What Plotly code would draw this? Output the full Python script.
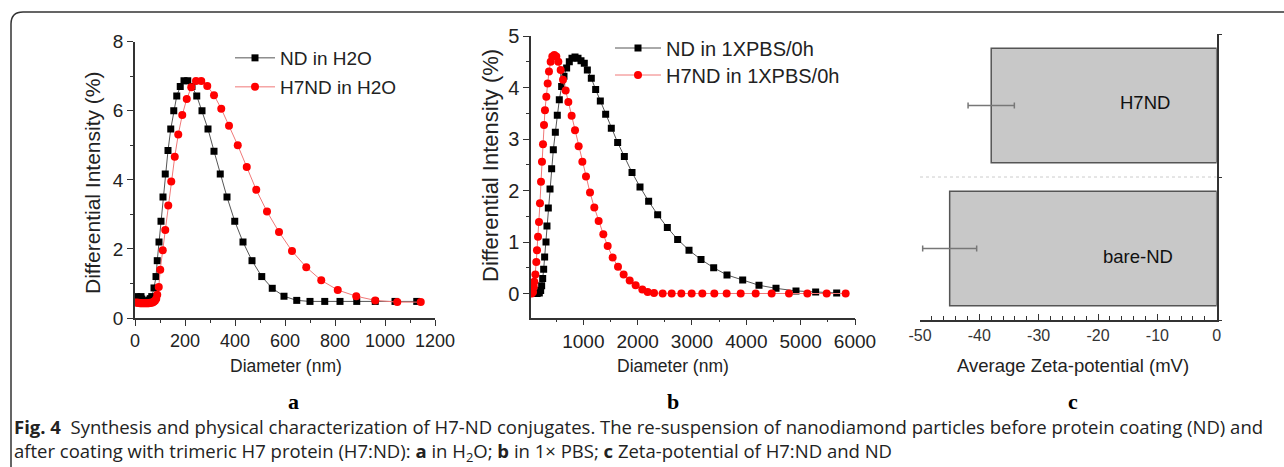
import plotly.graph_objects as go

W, H = 1284, 467

# ---------------- Panel a data (H2O) ----------------
a_nd_x = [7, 24, 27, 30, 33, 36, 39, 43, 47, 51, 56, 61, 67, 76, 84, 89, 96, 104, 112, 121, 132, 143, 155,
          167, 181, 196, 211, 228, 247, 268, 292, 316, 341, 368, 399, 432, 468, 507, 549, 596, 647, 700,
          759, 820, 887, 961, 1040, 1127]
a_nd_y = [0.62, 0.62, 0.55, 0.5, 0.48, 0.47, 0.46, 0.46, 0.47, 0.48, 0.52, 0.56, 0.62, 0.87, 1.2, 1.66, 2.2,
          2.8, 3.5, 4.17, 4.85, 5.47, 6.0, 6.43, 6.7, 6.87, 6.87, 6.7, 6.43, 6.0, 5.47, 4.83, 4.17, 3.5,
          2.8, 2.2, 1.66, 1.2, 0.86, 0.63, 0.51, 0.48, 0.48, 0.48, 0.48, 0.48, 0.48, 0.48]
a_h7_x = [5, 10, 15, 20, 25, 30, 35, 40, 45, 50, 55, 60, 65, 70, 75, 80, 85, 89, 95, 101, 111, 121, 133,
          145, 159, 173, 189, 207, 225, 244, 265, 289, 316, 345, 376, 411, 447, 485, 528, 576, 628, 685,
          745, 811, 885, 961, 1049, 1143]
a_h7_y = [0.45, 0.44, 0.44, 0.43, 0.43, 0.43, 0.43, 0.43, 0.43, 0.43, 0.43, 0.44, 0.44, 0.45, 0.47, 0.5,
          0.56, 0.67, 0.9, 1.4, 1.96, 2.55, 3.26, 3.95, 4.67, 5.31, 5.88, 6.34, 6.68, 6.86, 6.86, 6.72,
          6.45, 6.06, 5.57, 5.0, 4.37, 3.71, 3.08, 2.49, 1.94, 1.47, 1.09, 0.81, 0.63, 0.51, 0.46, 0.46]

# ---------------- Panel b data (1X PBS) ----------------
b_nd_x = [150, 190, 215, 233, 252, 270, 288, 313, 331, 356, 387, 417, 448, 485, 521, 558, 601, 644, 693,
          742, 791, 847, 902, 957, 1018, 1074, 1147, 1227, 1313, 1411, 1515, 1632, 1755, 1896, 2043,
          2202, 2368, 2546, 2736, 2945, 3166, 3399, 3644, 3933, 4233, 4546, 4914, 5276, 5663]
b_nd_y = [0.0, 0.01, 0.06, 0.15, 0.29, 0.47, 0.71, 1.0, 1.31, 1.66, 2.03, 2.42, 2.79, 3.13, 3.46, 3.76,
          4.02, 4.22, 4.38, 4.5, 4.57, 4.59, 4.57, 4.52, 4.47, 4.34, 4.18, 3.96, 3.74, 3.48, 3.21, 2.93,
          2.66, 2.35, 2.07, 1.79, 1.53, 1.28, 1.05, 0.84, 0.66, 0.5, 0.36, 0.26, 0.16, 0.1, 0.05, 0.03, 0.01]
b_h7_x = [50, 74, 88, 98, 117, 135, 147, 166, 184, 202, 221, 239, 258, 276, 294, 319, 344, 368, 399, 429,
          466, 503, 540, 583, 626, 675, 724, 785, 847, 914, 982, 1049, 1123, 1202, 1282, 1368, 1448, 1540,
          1638, 1742, 1853, 1963, 2086, 2184, 2301, 2460, 2626, 2804, 2994, 3190, 3411, 3638, 3896, 4172,
          4466, 4785, 5123, 5479, 5828]
b_h7_y = [0.0, 0.03, 0.13, 0.23, 0.37, 0.61, 0.84, 1.1, 1.39, 1.75, 2.17, 2.56, 2.9, 3.27, 3.56, 3.82,
          4.08, 4.31, 4.5, 4.6, 4.63, 4.6, 4.5, 4.34, 4.15, 3.94, 3.72, 3.45, 3.17, 2.86, 2.56, 2.27, 1.96,
          1.67, 1.41, 1.15, 0.92, 0.7, 0.52, 0.37, 0.25, 0.16, 0.08, 0.03, 0.01, 0.0, 0.0, 0.0, 0.0, 0.0,
          0.0, 0.0, 0.0, 0.0, 0.0, 0.0, 0.0, 0.0, 0.0]

# ---------------- Panel c data (zeta potential) ----------------
c_labels = ["bare-ND", "H7ND"]
c_pos = [0, 1]
c_values = [-45.0, -38.0]
c_errors = [4.55, 3.9]
c_tickvals = [-50, -40, -30, -20, -10, 0]
c_ticktext = ["-50", "-40", "-30", "-20", "-10", "0"]

FONT = "Liberation Sans, Arial, sans-serif"
AX = "#333333"


def px_x(p):
    return p / W


def px_y(p):
    return 1 - p / H


fig = go.Figure()

ND_LINE = dict(color="#555555", width=1)
ND_MARK = dict(symbol="square", size=7, color="#000000")
H7_LINE = dict(color="#f07878", width=1)
H7_MARK = dict(symbol="circle", size=8, color="#ff0000")

# panel a
fig.add_trace(go.Scatter(x=a_nd_x, y=a_nd_y, mode="lines+markers", name="ND in H2O",
                         line=ND_LINE, marker=ND_MARK, xaxis="x", yaxis="y", legend="legend"))
fig.add_trace(go.Scatter(x=a_h7_x, y=a_h7_y, mode="lines+markers", name="H7ND in H2O",
                         line=H7_LINE, marker=H7_MARK, xaxis="x", yaxis="y", legend="legend2"))
# panel b
fig.add_trace(go.Scatter(x=b_nd_x, y=b_nd_y, mode="lines+markers", name="ND in 1XPBS/0h",
                         line=ND_LINE, marker=ND_MARK, xaxis="x2", yaxis="y2", legend="legend3"))
fig.add_trace(go.Scatter(x=b_h7_x, y=b_h7_y, mode="lines+markers", name="H7ND in 1XPBS/0h",
                         line=H7_LINE, marker=H7_MARK, xaxis="x2", yaxis="y2", legend="legend4"))
# panel c
fig.add_trace(go.Bar(x=c_values, y=c_pos, orientation="h", width=0.8,
                     marker=dict(color="#c8c8c8", line=dict(color="#555555", width=1.5)),
                     error_x=dict(type="data", array=c_errors, color="#777777", thickness=1.5, width=3),
                     xaxis="x3", yaxis="y3", showlegend=False))

axis_common = dict(showline=True, linecolor=AX, linewidth=1.5, ticks="outside", tickcolor=AX,
                   tickwidth=1.2, showgrid=False, zeroline=False, automargin=False)


def leg(xp, yp, size, iw):
    return dict(x=px_x(xp), y=px_y(yp), xanchor="left", yanchor="middle", bgcolor="rgba(0,0,0,0)",
                font=dict(family=FONT, size=size, color="#222"), itemwidth=iw, tracegroupgap=0)


fig.update_layout(
    template="none",
    width=W, height=H, margin=dict(l=0, r=0, t=0, b=0, pad=0, autoexpand=False),
    paper_bgcolor="white", plot_bgcolor="rgba(0,0,0,0)",
    xaxis=dict(axis_common, domain=[px_x(135), px_x(435)], anchor="y", range=[0, 1200],
               tick0=0, dtick=200, ticklen=6, tickfont=dict(family=FONT, size=18, color="#222"),
               minor=dict(ticks="outside", dtick=100, ticklen=3, tickcolor=AX)),
    yaxis=dict(axis_common, domain=[px_y(318), px_y(41.7)], anchor="x", range=[0, 8],
               tick0=0, dtick=2, ticklen=6, tickfont=dict(family=FONT, size=19, color="#222"),
               minor=dict(ticks="outside", dtick=1, ticklen=3, tickcolor=AX)),
    xaxis2=dict(axis_common, domain=[px_x(531), px_x(855)], anchor="y2", range=[37, 6000],
                tickvals=[1000, 2000, 3000, 4000, 5000, 6000], ticklen=6,
                tickfont=dict(family=FONT, size=19, color="#222"),
                minor=dict(ticks="outside", tickvals=[500, 1500, 2500, 3500, 4500, 5500], ticklen=3, tickcolor=AX)),
    yaxis2=dict(axis_common, domain=[px_y(317.7), px_y(36)], anchor="x2", range=[-0.47, 5],
                tickvals=[0, 1, 2, 3, 4, 5], ticklen=6,
                tickfont=dict(family=FONT, size=20, color="#222"),
                minor=dict(ticks="outside", tickvals=[0.5, 1.5, 2.5, 3.5, 4.5], ticklen=3, tickcolor=AX)),
    xaxis3=dict(axis_common, domain=[px_x(920), px_x(1216.7)], anchor="y3", range=[-50, 0],
                tickvals=c_tickvals, ticktext=c_ticktext, ticks="inside", ticklen=6,
                tickfont=dict(family=FONT, size=16, color="#333"),
                minor=dict(ticks="inside", dtick=2, ticklen=4, tickcolor=AX)),
    yaxis3=dict(axis_common, domain=[px_y(320), px_y(34)], anchor="x3", range=[-0.5, 1.5],
                side="right", tickvals=[-0.5, 0.5, 1.5], showticklabels=False, ticklen=4),
    legend=leg(230, 58, 19, 40),
    legend2=leg(230, 87, 19, 40),
    legend3=leg(610, 48, 20, 46),
    legend4=leg(610, 75, 20, 46),
)


def pann(text, xp, yp, size, family=FONT, angle=0, xanchor="center", color="#222", align="center"):
    return dict(text=text, x=px_x(xp), y=px_y(yp), xref="paper", yref="paper", showarrow=False,
                xanchor=xanchor, yanchor="middle", textangle=angle, align=align,
                font=dict(family=family, size=size, color=color))


ann = []
# axis titles
ann.append(pann("Diameter (nm)", 286, 366, 17.5))
ann.append(pann("Diameter (nm)", 673, 366, 17.5))
ann.append(pann("Differential Intensity (%)", 92, 182, 21, angle=-90))
ann.append(pann("Differential Intensity (%)", 490, 166, 22, angle=-90))
ann.append(pann("Average Zeta-potential (mV)", 1073, 365, 18.5))
# bar labels
for lab, pos, lx, dy in zip(c_labels, c_pos, [-13.2, -12.0], [-0.056, 0.02]):
    ann.append(dict(text=lab, x=lx, y=pos + dy, xref="x3", yref="y3", showarrow=False,
                    xanchor="center", yanchor="middle",
                    font=dict(family=FONT, size=18.5, color="#111")))
# panel letters
for letter, xp in zip(["a", "b", "c"], [293, 673, 1073]):
    ann.append(pann("<b>" + letter + "</b>", xp, 401, 22,
                    family="Liberation Serif, Times New Roman, serif", color="#000"))
# caption (two lines in one text block)
CAP = "Open Sans, Noto Sans, sans-serif"
ann.append(pann("<b>Fig. 4</b>  Synthesis and physical characterization of H7-ND conjugates. The re-suspension of "
                "nanodiamond particles before protein coating (ND) and<br>"
                "after coating with trimeric H7 protein (H7:ND): <b>a</b> in H<sub>2</sub>O; <b>b</b> in 1\u00d7 PBS; "
                "<b>c</b> Zeta-potential of H7:ND and ND", 12, 440, 18.5, family=CAP, xanchor="left", align="left"))
fig.update_layout(annotations=ann)

shapes = []
# dotted separator in panel c
shapes.append(dict(type="line", xref="x3", yref="y3", x0=-50, x1=0, y0=0.5, y1=0.5,
                   line=dict(color="#cccccc", width=1, dash="dot")))
# figure frame (top + left with rounded corner)
shapes.append(dict(type="path", xref="paper", yref="paper",
                   path=f"M {px_x(11)},{-0.01} L {px_x(11)},{px_y(24)} Q {px_x(11)},{px_y(12)} {px_x(23)},{px_y(12)} L 1.01,{px_y(12)}",
                   line=dict(color="#333333", width=1.5)))
fig.update_layout(shapes=shapes)

fig.write_html("out.html", config={"displayModeBar": False},
               post_script="document.body.style.margin='0px';document.body.style.padding='0px';")
